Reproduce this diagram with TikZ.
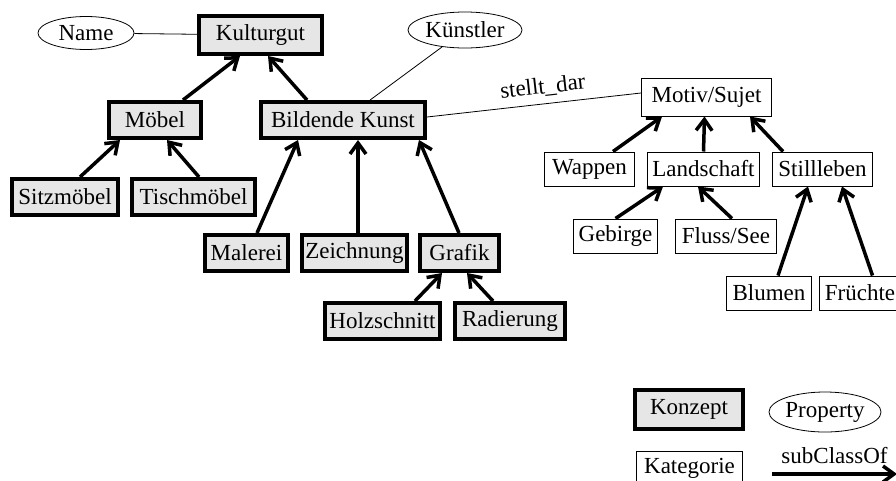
\documentclass[tikz,border=0pt]{standalone}
\usepackage{fontspec}
\setmainfont{Liberation Serif}
\usetikzlibrary{arrows.meta,shapes.geometric}
\definecolor{conceptgray}{RGB}{230,230,230}
\begin{document}
\begin{tikzpicture}[x=1pt,y=-1pt,
  every node/.style={font=\fontsize{23}{27}\selectfont, inner sep=0pt},
  konzept/.style={draw, line width=4pt, fill=conceptgray, minimum height=36pt},
  kategorie/.style={draw, line width=1pt, minimum height=34pt},
  property/.style={draw, ellipse, line width=0.8pt},
  sub/.style={line width=3.5pt, -{Straight Barb[length=11pt,width=16pt]}},
  rel/.style={line width=0.8pt}]
\useasboundingbox (0,0) rectangle (896,480);

% concepts
\node[konzept, minimum width=123pt, minimum height=38pt] (kult) at (260.5,35) {Kulturgut};
\node[konzept, minimum width=92pt]  (moebel) at (155,120) {Möbel};
\node[konzept, minimum width=164pt] (bk)     at (343,120) {Bildende Kunst};
\node[konzept, minimum width=106pt] (sitz)   at (65,197)  {Sitzmöbel};
\node[konzept, minimum width=123pt] (tisch)  at (193.5,197) {Tischmöbel};
\node[konzept, minimum width=83pt]  (mal)    at (246.5,253) {Malerei};
\node[konzept, minimum width=105pt] (zeich)  at (354.5,253) {Zeichnung};
\node[konzept, minimum width=79pt]  (graf)   at (459.5,253) {Grafik};
\node[konzept, minimum width=115pt] (holz)   at (382.5,321) {Holzschnitt};
\node[konzept, minimum width=110pt] (rad)    at (510,321)   {Radierung};

% categories
\node[kategorie, minimum width=130pt, minimum height=38pt] (motiv) at (706.5,97) {Motiv/Sujet};
\node[kategorie, minimum width=90pt]  (wappen) at (589.5,169) {Wappen};
\node[kategorie, minimum width=112pt] (land)   at (703.5,169) {Landschaft};
\node[kategorie, minimum width=100pt] (still)  at (822.5,169) {Stillleben};
\node[kategorie, minimum width=84pt]  (geb)    at (615.5,236) {Gebirge};
\node[kategorie, minimum width=101pt] (fluss)  at (726,236)   {Fluss/See};
\node[kategorie, minimum width=85pt]  (blumen) at (769,293)   {Blumen};
\node[kategorie, minimum width=82pt]  (frucht) at (860,293)   {Früchte};

% properties
\node[property, minimum width=96pt, minimum height=33pt]  (name) at (86,33) {Name};
\node[property, minimum width=114pt, minimum height=36pt] (kuenstler) at (465,30) {Künstler};

% property links
\draw[rel] (name) -- (kult);
\draw[rel] (kuenstler) -- (bk);
\draw[rel] ([yshift=3pt]bk.east) -- node[sloped, above=7pt, pos=0.55] {stellt\_dar} ([yshift=4pt]motiv.west);

% subclass relations
\draw[sub] ([xshift=28pt]moebel.north) -- ([xshift=-20.5pt]kult.south);
\draw[sub] ([xshift=-36pt]bk.north) -- ([xshift=7.5pt]kult.south);
\draw[sub] ([xshift=15pt]sitz.north) -- ([xshift=-35pt]moebel.south);
\draw[sub] ([xshift=5.5pt]tisch.north) -- ([xshift=12pt]moebel.south);
\draw[sub] ([xshift=10.5pt]mal.north) -- ([xshift=-45pt]bk.south);
\draw[sub] ([xshift=3.5pt]zeich.north) -- ([xshift=15pt]bk.south);
\draw[sub] ([xshift=-0.5pt]graf.north) -- ([xshift=76pt]bk.south);
\draw[sub] ([xshift=32.5pt]holz.north) -- ([xshift=-17.5pt]graf.south);
\draw[sub] ([xshift=-17pt]rad.north) -- ([xshift=7.5pt]graf.south);

\draw[sub] ([xshift=23.5pt]wappen.north) -- ([xshift=-44.5pt]motiv.south);
\draw[sub] ([xshift=0pt]land.north) -- ([xshift=-2pt]motiv.south);
\draw[sub] ([xshift=-39.5pt]still.north) -- ([xshift=43.5pt]motiv.south);
\draw[sub] ([xshift=0pt]geb.north) -- ([xshift=-40.5pt]land.south);
\draw[sub] ([xshift=6pt]fluss.north) -- ([xshift=-5.5pt]land.south);
\draw[sub] ([xshift=9pt]blumen.north) -- ([xshift=-14.5pt]still.south);
\draw[sub] ([xshift=12.5pt]frucht.north) -- ([xshift=19.5pt]still.south);

% legend
\node[konzept, minimum width=108pt, minimum height=39pt] (lkonzept) at (689,409) {Konzept};
\node[property, minimum width=110pt, minimum height=40pt] (lprop) at (825,412) {Property};
\node[kategorie, minimum width=106pt] (lkat) at (689.5,468) {Kategorie};
\coordinate (lsubA) at (772,474);
\coordinate (lsubB) at (897,474);
\draw[sub] (lsubA) -- node[above=9pt] {subClassOf} (lsubB);
\end{tikzpicture}
\end{document}
